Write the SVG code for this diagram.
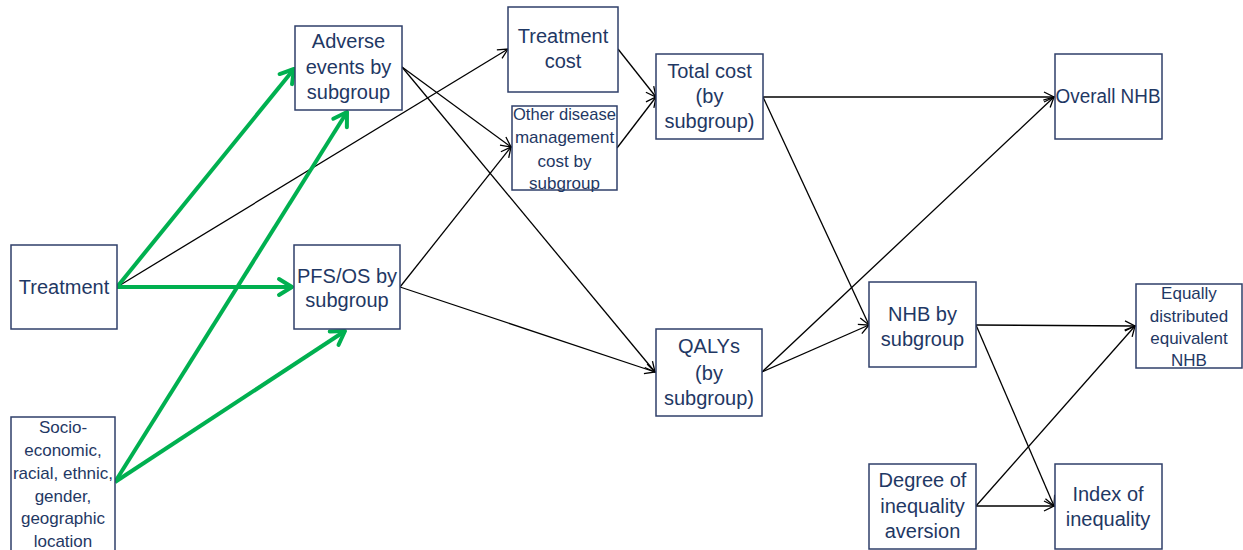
<svg xmlns="http://www.w3.org/2000/svg" width="1243" height="550" viewBox="0 0 1243 550">
<style>
.box{fill:#fff;stroke:#2F3F6A;stroke-width:1.5}
.t{font-family:"Liberation Sans",Arial,sans-serif;font-size:20px;fill:#1F3864;text-anchor:middle}
.s{font-family:"Liberation Sans",Arial,sans-serif;font-size:17px;fill:#1F3864;text-anchor:middle}
.k{stroke:#000;stroke-width:1.3;fill:none;marker-end:url(#ak)}
.g{stroke:#00B050;stroke-width:4;fill:none;marker-end:url(#ag)}
</style>
<defs>
<marker id="ak" markerUnits="userSpaceOnUse" viewBox="-12 -7 14 14" markerWidth="14" markerHeight="14" refX="0" refY="0" orient="auto" overflow="visible">
<path d="M-10,-5 L0,0 L-10,5" fill="none" stroke="#000" stroke-width="1.3"/>
</marker>
<marker id="ag" markerUnits="userSpaceOnUse" viewBox="-16 -10 18 20" markerWidth="18" markerHeight="20" refX="0" refY="0" orient="auto" overflow="visible">
<path d="M-13,-8 L0,0 L-13,8" fill="none" stroke="#00B050" stroke-width="4" stroke-linecap="round" stroke-linejoin="round"/>
</marker>
</defs>
<g id="connectors">
<line class="k" x1="117" y1="287" x2="508" y2="49"/>
<line class="k" x1="402" y1="67" x2="511" y2="147"/>
<line class="k" x1="402" y1="67" x2="655" y2="372"/>
<line class="k" x1="400" y1="287" x2="511" y2="147"/>
<line class="k" x1="400" y1="287" x2="655" y2="372"/>
<line class="k" x1="618" y1="49" x2="656" y2="97"/>
<line class="k" x1="617" y1="148" x2="656" y2="97"/>
<line class="k" x1="763" y1="97" x2="1054" y2="97"/>
<line class="k" x1="763" y1="97" x2="869" y2="325"/>
<line class="k" x1="762" y1="372" x2="1054" y2="97"/>
<line class="k" x1="762" y1="372" x2="869" y2="325"/>
<line class="k" x1="976" y1="325" x2="1135" y2="326"/>
<line class="k" x1="976" y1="325" x2="1054" y2="506"/>
<line class="k" x1="976" y1="506" x2="1135" y2="326"/>
<line class="k" x1="976" y1="506" x2="1054" y2="506"/>
<line class="g" x1="117" y1="287" x2="294" y2="69"/>
<line class="g" x1="117" y1="287" x2="292" y2="287"/>
<line class="g" x1="115" y1="482" x2="347" y2="112"/>
<line class="g" x1="115" y1="482" x2="345" y2="331"/>
</g>
<g id="treatment"><rect class="box" x="11" y="245" width="106" height="84"/><text class="t" x="64" y="294">Treatment</text></g>
<g id="socio"><rect class="box" x="11" y="417" width="104" height="140"/>
<text class="s" x="63" y="433">Socio-</text><text class="s" x="63" y="456">economic,</text><text class="s" x="63" y="479">racial, ethnic,</text><text class="s" x="63" y="502">gender,</text><text class="s" x="63" y="524">geographic</text><text class="s" x="63" y="547">location</text></g>
<g id="adverse"><rect class="box" x="295" y="26" width="107" height="84"/><text class="t" x="348.5" y="48">Adverse</text><text class="t" x="348.5" y="74">events by</text><text class="t" x="348.5" y="99">subgroup</text></g>
<g id="pfsos"><rect class="box" x="294" y="245" width="106" height="84"/><text class="t" x="347" y="283">PFS/OS by</text><text class="t" x="347" y="307">subgroup</text></g>
<g id="treatmentcost"><rect class="box" x="508" y="7" width="110" height="85"/><text class="t" x="563" y="43">Treatment</text><text class="t" x="563" y="68">cost</text></g>
<g id="otherdisease"><rect class="box" x="512" y="106" width="105" height="84"/><text class="s" x="564.5" y="120" textLength="103" lengthAdjust="spacingAndGlyphs">Other disease</text><text class="s" x="564.5" y="143">management</text><text class="s" x="564.5" y="167">cost by</text><text class="s" x="564.5" y="189">subgroup</text></g>
<g id="totalcost"><rect class="box" x="656" y="54" width="107" height="85"/><text class="t" x="709.5" y="78">Total cost</text><text class="t" x="709.5" y="103">(by</text><text class="t" x="709.5" y="128">subgroup)</text></g>
<g id="qalys"><rect class="box" x="656" y="329" width="106" height="87"/><text class="t" x="709" y="353">QALYs</text><text class="t" x="709" y="380">(by</text><text class="t" x="709" y="405">subgroup)</text></g>
<g id="overallnhb"><rect class="box" x="1055" y="54" width="107" height="85"/><text class="t" x="1108" y="103" textLength="105" lengthAdjust="spacingAndGlyphs">Overall NHB</text></g>
<g id="nhbsubgroup"><rect class="box" x="869" y="282" width="107" height="85"/><text class="t" x="922.5" y="321">NHB by</text><text class="t" x="922.5" y="346">subgroup</text></g>
<g id="equally"><rect class="box" x="1136" y="284" width="106" height="84"/><text class="s" x="1189" y="299">Equally</text><text class="s" x="1189" y="322">distributed</text><text class="s" x="1189" y="344">equivalent</text><text class="s" x="1189" y="366">NHB</text></g>
<g id="degree"><rect class="box" x="869" y="464" width="107" height="85"/><text class="t" x="922.5" y="487">Degree of</text><text class="t" x="922.5" y="513">inequality</text><text class="t" x="922.5" y="538">aversion</text></g>
<g id="index"><rect class="box" x="1055" y="464" width="107" height="85"/><text class="t" x="1108" y="501">Index of</text><text class="t" x="1108" y="526">inequality</text></g>
</svg>
